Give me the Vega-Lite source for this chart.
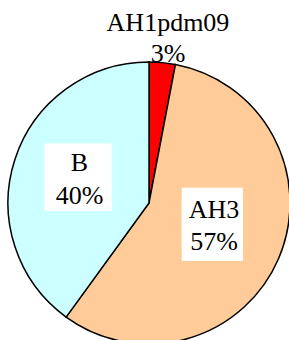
{
  "$schema": "https://vega.github.io/schema/vega-lite/v6.json",
  "width": 298,
  "height": 406,
  "autosize": {"type": "none"},
  "padding": {"left": 0, "top": 0, "right": -9, "bottom": -66},
  "background": "white",
  "view": {"stroke": null},
  "data": {"values": [
    {"type": "AH1pdm09", "pct": 3, "label": "AH1pdm09\n3%"},
    {"type": "AH3", "pct": 57, "label": "AH3\n57%"},
    {"type": "B", "pct": 40, "label": "B\n40%"}
  ]},
  "transform": [
    {"stack": "pct", "groupby": [], "sort": [{"field": "type", "order": "ascending"}], "as": ["start", "end"]}
  ],
  "encoding": {
    "theta": {"field": "start", "type": "quantitative", "stack": null, "scale": {"domain": [0, 100]}}
  },
  "layer": [
    {
      "mark": {"type": "arc", "outerRadius": 141, "stroke": "black", "strokeWidth": 1.5},
      "encoding": {
        "theta2": {"field": "end"},
        "color": {"field": "type", "type": "nominal", "legend": null,
          "scale": {"domain": ["AH1pdm09", "AH3", "B"], "range": ["#ff0000", "#ffcc99", "#ccffff"]}}
      }
    },
    {
      "transform": [{"filter": "datum.type === 'B'"}],
      "mark": {"type": "text", "text": "■", "font": "DejaVu Sans", "fontSize": 88, "color": "white", "radius": 76.7, "thetaOffset": 1.33, "baseline": "middle", "align": "center"}
    },
    {
      "transform": [{"filter": "datum.type === 'AH3'"}],
      "mark": {"type": "text", "text": "■\n■", "lineBreak": "\n", "lineHeight": 12, "font": "DejaVu Sans", "fontSize": 80, "color": "white", "radius": 64.6, "thetaOffset": 1.566, "baseline": "middle", "align": "center"}
    },
    {
      "transform": [{"filter": "datum.type === 'AH1pdm09'"}],
      "mark": {"type": "text", "font": "Liberation Serif", "fontSize": 26, "lineHeight": 31, "lineBreak": "\n", "color": "black", "baseline": "middle", "align": "center", "radius": 181, "thetaOffset": 0.105},
      "encoding": {"text": {"field": "label"}}
    },
    {
      "transform": [{"filter": "datum.type === 'AH3'"}],
      "mark": {"type": "text", "font": "Liberation Serif", "fontSize": 26, "lineHeight": 32, "lineBreak": "\n", "color": "black", "baseline": "middle", "align": "center", "radius": 65.4, "thetaOffset": 1.497},
      "encoding": {"text": {"field": "label"}}
    },
    {
      "transform": [{"filter": "datum.type === 'B'"}],
      "mark": {"type": "text", "font": "Liberation Serif", "fontSize": 26, "lineHeight": 33, "lineBreak": "\n", "color": "black", "baseline": "middle", "align": "center", "radius": 80.2, "thetaOffset": 1.464},
      "encoding": {"text": {"field": "label"}}
    }
  ]
}
